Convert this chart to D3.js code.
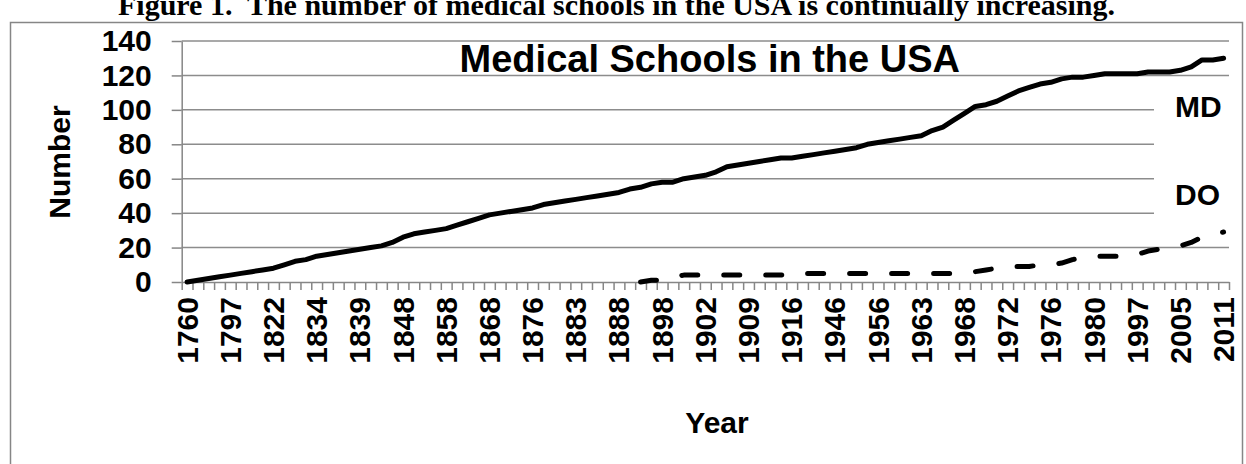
<!DOCTYPE html>
<html>
<head>
<meta charset="utf-8">
<script src="https://cdn.jsdelivr.net/npm/d3@7"></script>
<style>
  body { margin: 0; background: #fff; }
  svg { display: block; font-family: "Liberation Sans", Arial, sans-serif; font-weight: bold; }
  .axis path, .axis line { stroke: #868686; stroke-width: 1.5; }
  .grid-line { stroke: #8c8c8c; stroke-width: 1.5; }
</style>
</head>
<body>
<svg width="1246" height="464"></svg>
<script>
// labels under the axis (every 4th category has one)
const tickLabels = ["1760", "1797", "1822", "1834", "1839", "1848", "1858", "1868", "1876",
  "1883", "1888", "1898", "1902", "1909", "1916", "1946", "1956", "1963", "1968",
  "1972", "1976", "1980", "1997", "2005", "2011"];
const labelStep = 4;

// number of MD schools, one value per category (97 categories)
const mdValues = [0, 1, 2, 3, 4, 5, 6, 7, 8, 10, 12, 13, 15, 16, 17, 18, 19, 20, 21, 23,
  26, 28, 29, 30, 31, 33, 35, 37, 39, 40, 41, 42, 43, 45, 46, 47, 48, 49, 50, 51,
  52, 54, 55, 57, 58, 58, 60, 61, 62, 64, 67, 68, 69, 70, 71, 72, 72, 73, 74, 75,
  76, 77, 78, 80, 81, 82, 83, 84, 85, 88, 90, 94, 98, 102, 103, 105, 108, 111, 113, 115,
  116, 118, 119, 119, 120, 121, 121, 121, 121, 122, 122, 122, 123, 125, 129, 129, 130];

// number of DO schools, starts at category 42
const doStart = 42;
const doValues = [0, 1, 1, 3, 4, 4, 4, 4, 4, 4, 4, 4, 4, 4, 5, 5, 5, 5, 5, 5,
  5, 5, 5, 5, 5, 5, 5, 5, 5, 5, 5, 6, 7, 8, 9, 9, 9, 10, 10, 11,
  13, 14, 15, 15, 15, 15, 16, 18, 19, 20, 21, 23, 26, 28, 29];

const yTicks = [0, 20, 40, 60, 80, 100, 120, 140];

let svg = d3.select("svg");

// рамка вокруг всего
svg.append("rect")
  .attr("x", 10.5).attr("y", 22.5)
  .attr("width", 1232).attr("height", 500)
  .attr("fill", "none").attr("stroke", "#868686").attr("stroke-width", 1.5);

// подпись рисунка сверху (обрезана)
svg.append("text")
  .attr("x", 118).attr("y", 15)
  .style("font-family", "'Liberation Serif', 'Times New Roman', serif")
  .style("font-size", "30px")
  .style("white-space", "pre")
  .text("Figure 1.  The number of medical schools in the USA is continually increasing.");

let plotLeft = 181.7, plotRight = 1229, plotTop = 41, plotBottom = 282;
let categories = d3.range(mdValues.length);

let scaleX = d3.scaleBand().domain(categories).range([plotLeft, plotRight]);
let scaleXB = d3.scaleLinear().domain([0, categories.length]).range([plotLeft, plotRight]);
let scaleY = d3.scaleLinear().domain([0, 140]).range([plotBottom, plotTop]);
let cx = i => scaleX(i) + scaleX.bandwidth() / 2;

// сетка
svg.append("g")
  .selectAll("line")
  .data(yTicks.slice(1))
  .enter()
  .append("line")
  .classed("grid-line", true)
  .attr("x1", plotLeft).attr("x2", plotRight)
  .attr("y1", d => scaleY(d)).attr("y2", d => scaleY(d));

// ось Y
svg.append("g")
  .attr("class", "axis")
  .attr("transform", `translate(${plotLeft}, 0)`)
  .call(d3.axisLeft(scaleY).tickValues(yTicks).tickSize(10).tickSizeOuter(0).tickPadding(20))
  .selectAll("text")
  .style("font-size", "30px")
  .style("fill", "#000");

// ось X: засечки между категориями
svg.append("g")
  .attr("class", "axis")
  .attr("transform", `translate(0, ${plotBottom})`)
  .call(d3.axisBottom(scaleXB).tickValues(d3.range(categories.length + 1)).tickSize(8).tickSizeOuter(0).tickFormat(""));

// подписи оси X
svg.append("g")
  .attr("class", "x-labels")
  .attr("transform", `translate(0, ${plotBottom})`)
  .call(d3.axisBottom(scaleX)
    .tickValues(categories.filter(i => i % labelStep == 0))
    .tickSize(0)
    .tickFormat(i => tickLabels[i / labelStep]))
  .call(g => g.select(".domain").remove())
  .selectAll("text")
  .style("font-size", "30px")
  .style("fill", "#000")
  .style("text-anchor", "end")
  .attr("x", -15)
  .attr("y", 0)
  .attr("dy", "0.35em")
  .attr("transform", "rotate(-90)");

// белые подложки под подписями MD и DO
svg.append("rect").attr("x", 1154).attr("y", 84).attr("width", 80).attr("height", 142).attr("fill", "#fff");

// линия MD
let lineMD = d3.line().x((d, i) => cx(i)).y(d => scaleY(d));
svg.append("path")
  .datum(mdValues)
  .attr("d", lineMD)
  .attr("fill", "none")
  .attr("stroke", "#000")
  .attr("stroke-width", 5)
  .attr("stroke-linejoin", "round")
  .attr("stroke-linecap", "round");

// линия DO (пунктир)
let lineDO = d3.line().x((d, i) => cx(i + doStart)).y(d => scaleY(d));
svg.append("path")
  .datum(doValues)
  .attr("d", lineDO)
  .attr("fill", "none")
  .attr("stroke", "#000")
  .attr("stroke-width", 5)
  .attr("stroke-dasharray", "16,26")
  .attr("stroke-linejoin", "round")
  .attr("stroke-linecap", "round");

svg.append("text").attr("x", 1175).attr("y", 117).style("font-size", "30px").text("MD");
svg.append("text").attr("x", 1175).attr("y", 205).style("font-size", "30px").text("DO");

// заголовок и подписи осей
svg.append("text")
  .attr("x", 960).attr("y", 72)
  .style("text-anchor", "end")
  .style("font-size", "38px")
  .text("Medical Schools in the USA");

svg.append("text")
  .attr("transform", "translate(70, 162) rotate(-90)")
  .style("text-anchor", "middle")
  .style("font-size", "30px")
  .text("Number");

svg.append("text")
  .attr("x", 717).attr("y", 433)
  .style("text-anchor", "middle")
  .style("font-size", "30px")
  .text("Year");
</script>
</body>
</html>
